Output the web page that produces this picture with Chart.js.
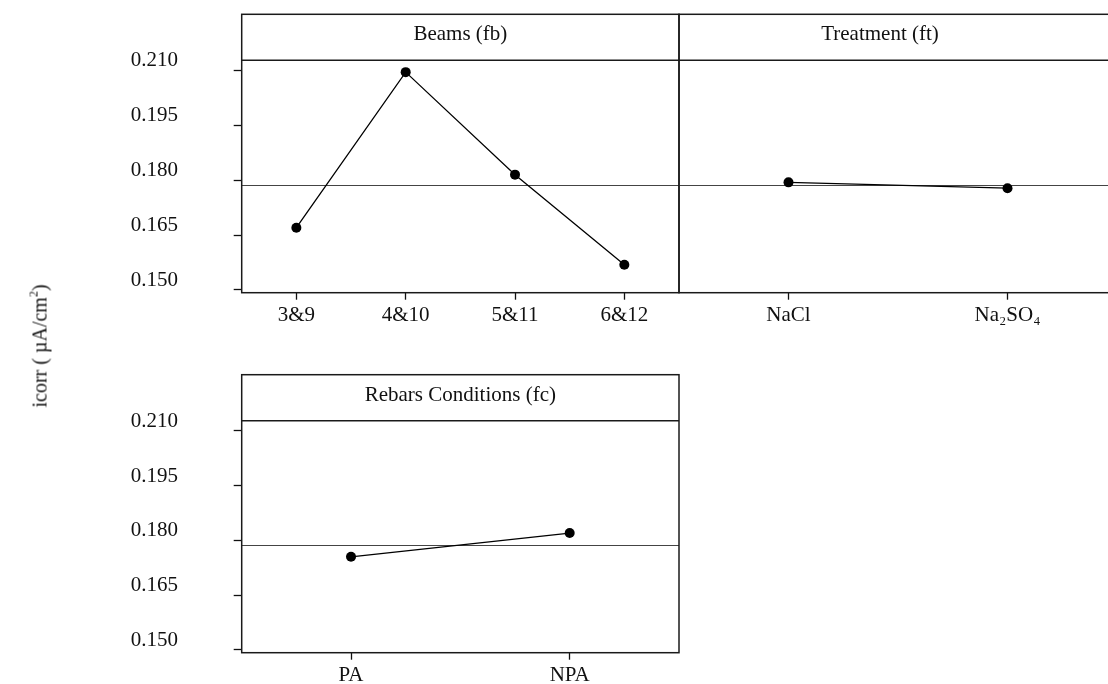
<!DOCTYPE html>
<html>
<head>
<meta charset="utf-8">
<script src="https://cdn.jsdelivr.net/npm/chart.js@4.4.1/dist/chart.umd.min.js"></script>
<style>
  html, body { margin: 0; padding: 0; background: #fff; overflow: hidden; }
  body { width: 1108px; height: 684px; position: relative; }
  canvas { position: absolute; }
  #yTitle {
    position: absolute; left: 40px; top: 346px;
    transform: translate(-50%, -50%) rotate(-90deg);
    font: 20px "Liberation Serif", serif; color: #111; white-space: nowrap;
  }
  #yTitle sup { font-size: 12px; vertical-align: 9px; line-height: 0; }
</style>
</head>
<body>
<canvas id="beamsChart" width="684" height="330" style="left:0;top:0"></canvas>
<canvas id="treatChart" width="448" height="330" style="left:674px;top:0"></canvas>
<canvas id="rebarChart" width="684" height="324" style="left:0;top:360px"></canvas>
<div id="yTitle">icorr ( µA/cm<sup>2</sup>)</div>

<script>
// main effects means
const beams = ["3&9", "4&10", "5&11", "6&12"];
const beamMeans = [0.1670, 0.2095, 0.1815, 0.1569];

const treatments = ["NaCl", "Na₂SO₄"];
const treatMeans = [0.1794, 0.1778];

const rebars = ["PA", "NPA"];
const rebarMeans = [0.1755, 0.1820];

const grandMean = 0.1787;
const yTicks = [0.150, 0.165, 0.180, 0.195, 0.210];
const yMin = 0.14926;
const yMax = 0.21273;

const serif = "'Liberation Serif', 'Times New Roman', serif";

// strip header, frame and the grand mean reference line
const panelPlugin = {
  id: "panel",
  beforeDatasetsDraw(chart) {
    const { ctx, chartArea: a, scales } = chart;
    const y = Math.round(scales.y.getPixelForValue(grandMean)) + 0.5;
    ctx.save();
    ctx.strokeStyle = "#444";
    ctx.lineWidth = 1;
    ctx.beginPath();
    ctx.moveTo(a.left, y);
    ctx.lineTo(a.right, y);
    ctx.stroke();
    ctx.restore();
  },
  afterDraw(chart, args, opts) {
    const { ctx, chartArea: a } = chart;
    const top = a.top - opts.stripHeight;
    ctx.save();
    ctx.strokeStyle = "#1a1a1a";
    ctx.lineWidth = 1.5;
    ctx.strokeRect(a.left, top, a.right - a.left, a.bottom - top);
    ctx.beginPath();
    ctx.moveTo(a.left, a.top);
    ctx.lineTo(a.right, a.top);
    ctx.stroke();
    ctx.fillStyle = "#111";
    ctx.font = "21px " + serif;
    ctx.textAlign = "center";
    ctx.textBaseline = "alphabetic";
    ctx.fillText(opts.title, (a.left + a.right) / 2 + (opts.shift || 0), top + 26);
    ctx.restore();
  },
};

function makeChart(id, labels, values, opts) {
  return new Chart(document.getElementById(id), {
    type: "line",
    data: {
      labels: labels,
      datasets: [
        {
          data: values,
          borderColor: "#000",
          borderWidth: 1.3,
          pointBackgroundColor: "#000",
          pointBorderWidth: 0,
          pointRadius: 5,
          tension: 0,
        },
      ],
    },
    options: {
      responsive: false,
      animation: false,
      layout: { padding: { top: opts.padTop, right: 0, left: opts.padLeft, bottom: 0 } },
      scales: {
        x: {
          type: "category",
          offset: true,
          border: { display: false },
          grid: {
            drawOnChartArea: false,
            tickLength: 7,
            tickColor: "#111",
            tickWidth: 1.3,
          },
          ticks: {
            padding: 3,
            color: "#111",
            font: { family: serif, size: 21 },
            maxRotation: 0,
          },
          afterFit(scale) {
            scale.height = opts.xHeight;
          },
        },
        y: {
          display: opts.showY,
          min: yMin,
          max: yMax,
          border: { display: false },
          grid: {
            drawOnChartArea: false,
            tickLength: 8,
            tickColor: "#111",
            tickWidth: 1.3,
          },
          ticks: {
            padding: 0,
            crossAlign: "far",
            labelOffset: -9.5,
            color: "#111",
            font: { family: serif, size: 21 },
            callback: (v) => Number(v).toFixed(3),
          },
          afterBuildTicks(scale) {
            scale.ticks = yTicks.map((v) => ({ value: v }));
          },
          afterFit(scale) {
            if (opts.showY) scale.width = 111;
          },
        },
      },
      plugins: {
        legend: { display: false },
        tooltip: { enabled: false },
        panel: { title: opts.title, stripHeight: 46, shift: opts.shift },
      },
    },
    plugins: [panelPlugin],
  });
}

makeChart("beamsChart", beams, beamMeans, {
  title: "Beams (fb)", padTop: 60.3, padLeft: 130.7, xHeight: 37.3, showY: true,
});
makeChart("treatChart", treatments, treatMeans, {
  title: "Treatment (ft)", padTop: 60.3, padLeft: 0, xHeight: 37.3, showY: false, shift: -18,
});
makeChart("rebarChart", rebars, rebarMeans, {
  title: "Rebars Conditions (fc)", padTop: 60.7, padLeft: 130.7, xHeight: 31.3, showY: true,
});
</script>
</body>
</html>
